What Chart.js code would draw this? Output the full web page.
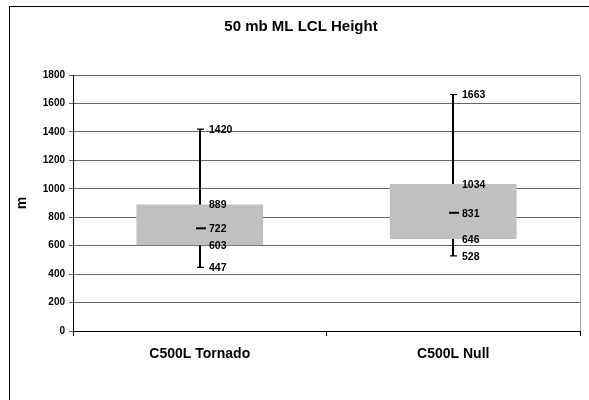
<!DOCTYPE html>
<html>
<head>
<meta charset="utf-8">
<script src="https://cdn.jsdelivr.net/npm/chart.js@4/dist/chart.umd.min.js"></script>
<style>
  html, body { margin: 0; padding: 0; background: #fff; }
  #wrap { width: 589px; height: 400px; position: relative; }
</style>
</head>
<body>
<div id="wrap"><canvas id="chart" width="589" height="400"></canvas></div>
<script>
const categories = ['C500L Tornado', 'C500L Null'];
const minVals = [447, 528];
const q1Vals = [603, 646];
const medianVals = [722, 831];
const q3Vals = [889, 1034];
const maxVals = [1420, 1663];
const yTicks = [0, 200, 400, 600, 800, 1000, 1200, 1400, 1600, 1800];

const FONT = '"Liberation Sans", Arial, sans-serif';

// whiskers behind the boxes, medians and value labels on top
const boxPlotPlugin = {
  id: 'boxPlot',
  beforeDatasetsDraw(chart) {
    const { ctx, scales: { x, y } } = chart;
    ctx.save();
    ctx.strokeStyle = '#000';
    categories.forEach((c, i) => {
      const cx = Math.round(x.getPixelForValue(i));
      const yMin = y.getPixelForValue(minVals[i]);
      const yMax = y.getPixelForValue(maxVals[i]);
      ctx.lineWidth = 2;
      ctx.beginPath();
      ctx.moveTo(cx, yMin);
      ctx.lineTo(cx, yMax);
      ctx.stroke();
      ctx.lineWidth = 1.2;
      ctx.beginPath();
      ctx.moveTo(cx - 3, yMin); ctx.lineTo(cx + 4, yMin);
      ctx.moveTo(cx - 3, yMax); ctx.lineTo(cx + 4, yMax);
      ctx.stroke();
    });
    ctx.restore();
  },
  afterDatasetsDraw(chart) {
    const { ctx, chartArea, scales: { x, y } } = chart;
    ctx.save();
    // right edge of plot area
    ctx.strokeStyle = '#a0a0a0';
    ctx.lineWidth = 1;
    ctx.beginPath();
    ctx.moveTo(chartArea.right + 0.5, chartArea.top);
    ctx.lineTo(chartArea.right + 0.5, chartArea.bottom);
    ctx.stroke();

    ctx.fillStyle = '#000';
    ctx.strokeStyle = '#000';
    ctx.font = 'bold 10.5px ' + FONT;
    ctx.textAlign = 'left';
    ctx.textBaseline = 'middle';
    categories.forEach((c, i) => {
      const cx = Math.round(x.getPixelForValue(i));
      const ym = y.getPixelForValue(medianVals[i]);
      ctx.lineWidth = 2;
      ctx.beginPath();
      ctx.moveTo(cx - 4, ym);
      ctx.lineTo(cx + 6, ym);
      ctx.stroke();
      [maxVals, q3Vals, medianVals, q1Vals, minVals].forEach(arr => {
        ctx.fillText(String(arr[i]), cx + 9, y.getPixelForValue(arr[i]) + 1);
      });
    });
    ctx.restore();
  },
  afterDraw(chart) {
    const { ctx, chartArea } = chart;
    ctx.save();
    ctx.fillStyle = '#000';
    ctx.font = 'bold 15px ' + FONT;
    ctx.textAlign = 'center';
    ctx.textBaseline = 'middle';
    ctx.fillText('50 mb ML LCL Height', 301, 27);
    // y axis title
    ctx.translate(22, (chartArea.top + chartArea.bottom) / 2);
    ctx.rotate(-Math.PI / 2);
    ctx.font = 'bold 14px ' + FONT;
    ctx.fillText('m', 0, 0);
    ctx.restore();
    // outer frame (right/bottom edges fall outside the picture)
    ctx.save();
    ctx.strokeStyle = '#000';
    ctx.lineWidth = 1;
    ctx.strokeRect(9.5, 6.5, 700, 700);
    ctx.restore();
  }
};

new Chart(document.getElementById('chart'), {
  type: 'bar',
  data: {
    labels: categories,
    datasets: [{
      data: categories.map((c, i) => [q1Vals[i], q3Vals[i]]),
      backgroundColor: '#c0c0c0',
      borderWidth: 0,
      categoryPercentage: 1,
      barPercentage: 0.5
    }]
  },
  options: {
    responsive: false,
    animation: false,
    devicePixelRatio: 1,
    layout: { padding: { top: 75, right: 9, bottom: 0, left: 0 } },
    plugins: { legend: { display: false }, tooltip: { enabled: false } },
    scales: {
      x: {
        offset: true,
        grid: { drawOnChartArea: false, drawTicks: true, tickLength: 5, color: '#000', offset: true },
        border: { color: '#000', width: 1 },
        ticks: { color: '#000', font: { family: FONT, size: 14, weight: 'bold' }, padding: 10 },
        afterFit(scale) { scale.height = 69; }
      },
      y: {
        min: 0,
        max: 1800,
        afterBuildTicks(scale) { scale.ticks = yTicks.map(v => ({ value: v })); },
        grid: { color: '#666', lineWidth: 1, tickLength: 4 },
        border: { color: '#000', width: 1 },
        ticks: {
          color: '#000',
          font: { family: FONT, size: 10, weight: 'bold' },
          padding: 4,
          callback: v => String(v)
        },
        afterFit(scale) { scale.width = 73; }
      }
    }
  },
  plugins: [boxPlotPlugin]
});
</script>
</body>
</html>
